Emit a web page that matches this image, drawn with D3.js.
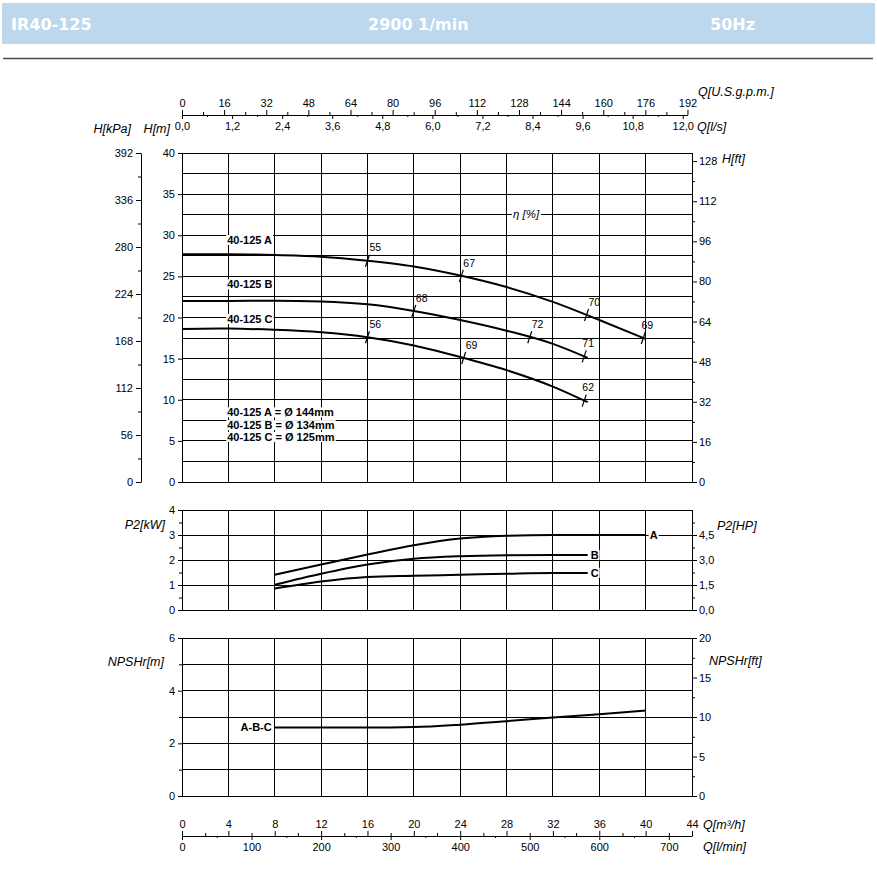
<!DOCTYPE html>
<html>
<head>
<meta charset="utf-8">
<script src="https://cdn.jsdelivr.net/npm/d3@7"></script>
<style>
body { margin: 0; background: #fff; }
svg text { font-family: "Liberation Sans", Arial, sans-serif; }
.lab { font-size: 12.5px; font-style: italic; }
</style>
</head>
<body>
<svg id="chart" width="877" height="877"></svg>
<script>
// ---- data ----
// Q in m3/h, H in m
const headQ_A = [0, 4, 8, 12, 16, 20, 24, 28, 32, 36, 40];
const headH_A = [27.7, 27.7, 27.6, 27.4, 26.9, 26.2, 25.1, 23.7, 21.9, 19.7, 17.4];
const headQ_B = [0, 4, 8, 12, 16, 20, 24, 28, 32, 35];
const headH_B = [22.0, 22.0, 22.05, 21.95, 21.6, 20.8, 19.7, 18.4, 16.8, 15.1];
const headQ_C = [0, 4, 8, 12, 16, 20, 24, 28, 32, 35];
const headH_C = [18.6, 18.65, 18.5, 18.2, 17.6, 16.6, 15.2, 13.6, 11.6, 9.7];

// efficiency marks [%]
const effQ_A = [16, 24.1, 34.9, 39.8];
const effV_A = [55, 67, 70, 69];
const effQ_B = [20, 30, 34.7];
const effV_B = [68, 72, 71];
const effQ_C = [16, 24.3, 34.7];
const effV_C = [56, 69, 62];

// P2 [kW]
const powerQ_A = [8, 12, 16, 20, 24, 28, 32, 36, 40];
const powerA = [1.41, 1.82, 2.22, 2.59, 2.86, 2.97, 3.0, 3.0, 3.0];
const powerQ_BC = [8, 12, 16, 20, 24, 28, 32, 35];
const powerB = [1.01, 1.45, 1.82, 2.05, 2.15, 2.19, 2.2, 2.2];
const powerC = [0.86, 1.14, 1.32, 1.37, 1.41, 1.45, 1.48, 1.48];

// NPSHr [m]
const npshQ = [8, 12, 16, 20, 24, 28, 32, 36, 40];
const npsh = [2.6, 2.6, 2.6, 2.62, 2.71, 2.84, 2.98, 3.1, 3.25];

// tick labels
const qTicks = [0, 4, 8, 12, 16, 20, 24, 28, 32, 36, 40, 44];
const lminTicks = [0, 100, 200, 300, 400, 500, 600, 700];
const gpmTicks = [0, 16, 32, 48, 64, 80, 96, 112, 128, 144, 160, 176, 192];
const lsTicks = [0, 1.2, 2.4, 3.6, 4.8, 6.0, 7.2, 8.4, 9.6, 10.8, 12.0];
const hTicks = [0, 5, 10, 15, 20, 25, 30, 35, 40];
const kpaTicks = [0, 56, 112, 168, 224, 280, 336, 392];
const ftTicks = [0, 16, 32, 48, 64, 80, 96, 112, 128];
const kwTicks = [0, 1, 2, 3, 4];
const hpTicks = [0, 1.5, 3.0, 4.5];
const npshTicks = [0, 2, 4, 6];
const npshFtTicks = [0, 5, 10, 15, 20];

// ---- scales ----
const svg = d3.select("#chart");
const xQ = d3.scaleLinear().domain([0, 44]).range([182, 692]);
const xGpm = d3.scaleLinear().domain([0, 192]).range([182, xQ(192 * 0.227125)]);
const xLs = d3.scaleLinear().domain([0, 12]).range([182, xQ(12 * 3.6)]);
const xLmin = d3.scaleLinear().domain([0, 700]).range([182, xQ(700 * 0.06)]);

const yH = d3.scaleLinear().domain([0, 40]).range([482, 153]);
const yKpa = d3.scaleLinear().domain([0, 392]).range([482, 153]);
const yFt = d3.scaleLinear().domain([0, 40 / 0.3048]).range([482, 153]);
const yP = d3.scaleLinear().domain([0, 4]).range([610, 510]);
const yHp = d3.scaleLinear().domain([0, 6]).range([610, 510]);
const yN = d3.scaleLinear().domain([0, 6]).range([796, 638]);
const yNft = d3.scaleLinear().domain([0, 20]).range([796, 638]);

const comma = d => d3.format(".1f")(d).replace(".", ",");
const int = d3.format("d");

// ---- header ----
svg.append("rect").attr("x", 2).attr("y", 3).attr("width", 873).attr("height", 41).attr("fill", "#bdd7ec");
[["IR40-125", 11], ["2900 1/min", 368], ["50Hz", 710]].forEach(([t, x]) => {
    svg.append("text").attr("x", x).attr("y", 30).text(t)
        .attr("fill", "#fff").style("font-family", "'DejaVu Sans', sans-serif")
        .style("font-weight", "bold").style("font-size", "16px");
});
svg.append("line").attr("x1", 3).attr("x2", 873).attr("y1", 58.5).attr("y2", 58.5)
    .attr("stroke", "#4a4a4a").attr("stroke-width", 1.5);

// ---- grids ----
function grid(yScale, yLines) {
    const g = svg.append("g").attr("stroke", "#000").attr("stroke-width", 1).attr("shape-rendering", "crispEdges");
    const [yb, yt] = yScale.range();
    g.selectAll(null).data(qTicks).enter().append("line")
        .attr("x1", d => xQ(d)).attr("x2", d => xQ(d)).attr("y1", yt).attr("y2", yb);
    g.selectAll(null).data(yLines).enter().append("line")
        .attr("x1", xQ(0)).attr("x2", xQ(44)).attr("y1", d => yScale(d)).attr("y2", d => yScale(d));
}
grid(yH, d3.range(0, 40.01, 2.5));
grid(yP, kwTicks);
grid(yN, d3.range(0, 6.01, 1));

// ---- axes ----
function drawAxis(gen, tx, ty, minor, minorSize, keepDomain) {
    const g = svg.append("g").attr("transform", `translate(${tx},${ty})`).call(gen.tickSizeOuter(0));
    g.attr("font-family", null).attr("font-size", null);
    g.selectAll("text").style("font-size", "11px").attr("fill", "#000");
    g.selectAll("line").attr("stroke", "#000");
    g.select(".domain").attr("stroke", "#000").attr("display", keepDomain === false ? "none" : null);
    if (minor) {
        const m = svg.append("g").attr("transform", `translate(${tx},${ty})`)
            .call(gen.tickValues(minor).tickSize(minorSize).tickFormat(""));
        m.select(".domain").remove();
        m.selectAll("line").attr("stroke", "#000");
    }
    return g;
}

const x0 = xQ(0), x1 = xQ(44);

// head chart
drawAxis(d3.axisLeft(yH).tickValues(hTicks).tickFormat(int).tickSize(4).tickPadding(3), x0, 0);
drawAxis(d3.axisLeft(yKpa).tickValues(kpaTicks).tickFormat(int).tickSize(5).tickPadding(3), 141, 0,
    d3.range(28, 392, 56), 3);
drawAxis(d3.axisRight(yFt).tickValues(ftTicks).tickFormat(int).tickSize(5).tickPadding(2), x1, 0,
    d3.range(8, 131, 16), 3);

// top flow axes
drawAxis(d3.axisTop(xGpm).tickValues(gpmTicks).tickFormat(int).tickSize(5).tickPadding(3), 0, 115,
    d3.range(8, 192, 16), 3);
drawAxis(d3.axisBottom(xLs).tickValues(lsTicks).tickSize(4).tickFormat(comma).tickPadding(3), 0, 115,
    d3.range(0.6, 12, 1.2), 2, false);

// power chart
drawAxis(d3.axisLeft(yP).tickValues(kwTicks).tickFormat(int).tickSize(4).tickPadding(3), x0, 0,
    d3.range(0.5, 4, 1), 3);
drawAxis(d3.axisRight(yHp).tickValues(hpTicks).tickSize(5).tickFormat(comma).tickPadding(2), x1, 0,
    d3.range(0.75, 6, 1.5), 3);

// NPSH chart
drawAxis(d3.axisLeft(yN).tickValues(npshTicks).tickFormat(int).tickSize(4).tickPadding(3), x0, 0,
    d3.range(1, 6, 2), 3);
drawAxis(d3.axisRight(yNft).tickValues(npshFtTicks).tickFormat(int).tickSize(5).tickPadding(2), x1, 0,
    d3.range(2.5, 20, 5), 3);

// bottom flow axes
drawAxis(d3.axisTop(xQ).tickValues(qTicks).tickFormat(int).tickSize(5).tickPadding(3), 0, 836,
    d3.range(2, 44, 4), 3);
drawAxis(d3.axisBottom(xLmin).tickValues(lminTicks).tickFormat(int).tickSize(4).tickPadding(3), 0, 836,
    d3.range(50, 733, 100), 2, false);

// ---- axis titles ----
function label(t, x, y, anchor) {
    svg.append("text").attr("class", "lab").attr("x", x).attr("y", y)
        .attr("dy", "0.35em").attr("text-anchor", anchor || "start").text(t);
}
label("Q[U.S.g.p.m.]", 698, 92);
label("Q[l/s]", 697, 127);
label("H[kPa]", 131, 129, "end");
label("H[m]", 170, 129, "end");
label("H[ft]", 722, 159);
label("P2[kW]", 165, 525, "end");
label("P2[HP]", 717, 526);
label("NPSHr[m]", 164, 662, "end");
label("NPSHr[ft]", 709, 661);
label("Q[m³/h]", 703, 825);
label("Q[l/min]", 703, 847);

// text with white background
function boxed(t, x, y, anchor, style) {
    const g = svg.append("g");
    const txt = g.append("text").attr("x", x).attr("y", y).attr("dy", "0.35em")
        .attr("text-anchor", anchor || "start").text(t)
        .style("font-size", style.size).style("font-weight", style.weight || null)
        .style("font-style", style.italic ? "italic" : null);
    const b = txt.node().getBBox();
    g.insert("rect", "text").attr("x", b.x - 1).attr("y", b.y + 1)
        .attr("width", b.width + 2).attr("height", b.height - 2).attr("fill", "#fff");
}

// ---- curves ----
const line = d3.line().curve(d3.curveMonotoneX);
function curve(qs, vs, yScale) {
    svg.append("path").attr("d", line(qs.map((q, i) => [xQ(q), yScale(vs[i])])))
        .attr("fill", "none").attr("stroke", "#000").attr("stroke-width", 2);
}
function interp(qs, vs, q) {
    for (let i = 1; i < qs.length; i++) {
        if (q <= qs[i]) {
            const t = (q - qs[i - 1]) / (qs[i] - qs[i - 1]);
            return vs[i - 1] + t * (vs[i] - vs[i - 1]);
        }
    }
    return vs[vs.length - 1];
}

curve(headQ_A, headH_A, yH);
curve(headQ_B, headH_B, yH);
curve(headQ_C, headH_C, yH);

function effMarks(qs, vs, hq, hh) {
    qs.forEach((q, i) => {
        const x = xQ(q), y = yH(interp(hq, hh, q));
        svg.append("line").attr("x1", x - 2).attr("y1", y + 6).attr("x2", x + 2).attr("y2", y - 6)
            .attr("stroke", "#000").attr("stroke-width", 1.2);
        const atEnd = q > hq[hq.length - 1] - 0.5;
        svg.append("text").attr("x", atEnd ? x + 4 : x + 2).attr("y", y - 13).attr("dy", "0.35em")
            .attr("text-anchor", atEnd ? "middle" : "start")
            .style("font-size", "10.5px").text(vs[i]);
    });
}
effMarks(effQ_A, effV_A, headQ_A, headH_A);
effMarks(effQ_B, effV_B, headQ_B, headH_B);
effMarks(effQ_C, effV_C, headQ_C, headH_C);

const bold = { size: "11px", weight: "bold" };
boxed("40-125 A", xQ(3.9), yH(29.4), "start", bold);
boxed("40-125 B", xQ(3.9), yH(24.0), "start", bold);
boxed("40-125 C", xQ(3.9), yH(19.8), "start", bold);
boxed("40-125 A = Ø 144mm", xQ(3.9), yH(8.45), "start", bold);
boxed("40-125 B = Ø 134mm", xQ(3.9), yH(6.9), "start", bold);
boxed("40-125 C = Ø 125mm", xQ(3.9), yH(5.45), "start", bold);
boxed("η [%]", xQ(28.55), yH(32.6), "start", { size: "11.5px", italic: true });

curve(powerQ_A, powerA, yP);
curve(powerQ_BC, powerB, yP);
curve(powerQ_BC, powerC, yP);
boxed("A", xQ(40) + 4, yP(3.0), "start", bold);
boxed("B", xQ(35) + 3, yP(2.2), "start", bold);
boxed("C", xQ(35) + 3, yP(1.48), "start", bold);

curve(npshQ, npsh, yN);
boxed("A-B-C", xQ(8) - 3, yN(2.6), "end", bold);
</script>
</body>
</html>
